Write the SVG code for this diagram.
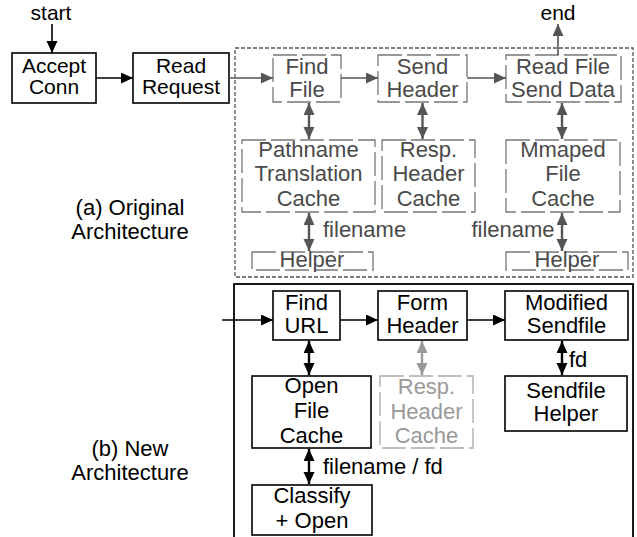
<svg xmlns="http://www.w3.org/2000/svg" width="637" height="537" viewBox="0 0 637 537">
  <defs>
    <marker id="ah-black" markerUnits="userSpaceOnUse" markerWidth="12" markerHeight="12" refX="12" refY="5.5" orient="auto-start-reverse">
      <path d="M0,0 L12,5.5 L0,11 z" fill="#000"/>
    </marker>
    <marker id="ah-gray" markerUnits="userSpaceOnUse" markerWidth="12" markerHeight="12" refX="12" refY="5.5" orient="auto-start-reverse">
      <path d="M0,0 L12,5.5 L0,11 z" fill="#555"/>
    </marker>
    <marker id="ah-light" markerUnits="userSpaceOnUse" markerWidth="12" markerHeight="12" refX="12" refY="5.5" orient="auto-start-reverse">
      <path d="M0,0 L12,5.5 L0,11 z" fill="#999"/>
    </marker>
  </defs>
  <style>
    text { font-family: "Liberation Sans", Arial, sans-serif; font-size: 22px; text-anchor: middle; fill: #000; }
    .sm { font-size: 21px; }
    .lbl { text-anchor: start; }
    .box { fill: #fff; stroke: #000; stroke-width: 1.6; }
    .gbox { fill: none; stroke: #777; stroke-width: 1.3; stroke-dasharray: 24 5; }
    .gbox-t { fill: #4a4a4a; }
    .lbox { fill: none; stroke: #aaa; stroke-width: 1.3; stroke-dasharray: 24 5; }
    .lbox-t { fill: #999; }
    .frame-a { fill: none; stroke: #555; stroke-width: 1.3; stroke-dasharray: 4 2; }
    .frame-b { fill: none; stroke: #000; stroke-width: 1.8; }
    .e-black { stroke: #000; stroke-width: 1.6; fill: none; marker-end: url(#ah-black); }
    .e-gray { stroke: #555; stroke-width: 1.6; fill: none; marker-end: url(#ah-gray); }
    .d-black { stroke: #000; stroke-width: 2.4; fill: none; marker-start: url(#ah-black); marker-end: url(#ah-black); }
    .d-gray { stroke: #555; stroke-width: 2.4; fill: none; marker-start: url(#ah-gray); marker-end: url(#ah-gray); }
    .d-light { stroke: #999; stroke-width: 2.4; fill: none; marker-start: url(#ah-light); marker-end: url(#ah-light); }
  </style>

  <!-- section frames -->
  <rect class="frame-a" x="235" y="48" width="398" height="229"/>
  <rect class="frame-b" x="234" y="284" width="399" height="270"/>

  <!-- section captions -->
  <text x="130" y="215">(a) Original</text>
  <text x="130" y="239">Architecture</text>
  <text x="130" y="456">(b) New</text>
  <text x="130" y="480">Architecture</text>

  <!-- original architecture -->
  <g id="accept-conn">
    <rect class="box" x="12" y="53" width="84" height="50"/>
    <text class="sm" x="54" y="73">Accept</text>
    <text class="sm" x="54" y="94">Conn</text>
  </g>
  <g id="read-request">
    <rect class="box" x="133" y="53" width="96" height="50"/>
    <text class="sm" x="181" y="73">Read</text>
    <text class="sm" x="181" y="94">Request</text>
  </g>
  <g id="find-file">
    <rect class="gbox" x="273" y="55" width="68" height="47"/>
    <text class="gbox-t" x="307" y="74">Find</text>
    <text class="gbox-t" x="307" y="97">File</text>
  </g>
  <g id="send-header">
    <rect class="gbox" x="378" y="55" width="89" height="47"/>
    <text class="gbox-t" x="422.5" y="74">Send</text>
    <text class="gbox-t" x="422.5" y="97">Header</text>
  </g>
  <g id="read-file-send-data">
    <rect class="gbox" x="506" y="55" width="115" height="47"/>
    <text class="gbox-t" x="563" y="74">Read File</text>
    <text class="gbox-t" x="563" y="97">Send Data</text>
  </g>
  <g id="pathname-cache">
    <rect class="gbox" x="242" y="140" width="133" height="72"/>
    <text class="gbox-t" x="308.5" y="157">Pathname</text>
    <text class="gbox-t" x="308.5" y="181">Translation</text>
    <text class="gbox-t" x="308.5" y="206">Cache</text>
  </g>
  <g id="resp-header-cache-a">
    <rect class="gbox" x="382" y="140" width="93" height="72"/>
    <text class="gbox-t" x="428.5" y="157">Resp.</text>
    <text class="gbox-t" x="428.5" y="181">Header</text>
    <text class="gbox-t" x="428.5" y="206">Cache</text>
  </g>
  <g id="mmaped-file-cache">
    <rect class="gbox" x="506" y="140" width="114" height="72"/>
    <text class="gbox-t" x="563" y="157">Mmaped</text>
    <text class="gbox-t" x="563" y="181">File</text>
    <text class="gbox-t" x="563" y="206">Cache</text>
  </g>
  <g id="helper-path">
    <rect class="gbox" x="252" y="252" width="121" height="18"/>
    <text class="gbox-t" x="312" y="267">Helper</text>
  </g>
  <g id="helper-mmap">
    <rect class="gbox" x="506" y="252" width="122" height="18"/>
    <text class="gbox-t" x="567" y="267">Helper</text>
  </g>

  <!-- new architecture -->
  <g id="find-url">
    <rect class="box" x="273" y="291" width="67" height="49"/>
    <text x="306.5" y="310">Find</text>
    <text x="306.5" y="333">URL</text>
  </g>
  <g id="form-header">
    <rect class="box" x="378" y="291" width="89" height="49"/>
    <text x="422.5" y="310">Form</text>
    <text x="422.5" y="333">Header</text>
  </g>
  <g id="modified-sendfile">
    <rect class="box" x="505" y="291" width="123" height="49"/>
    <text x="566.5" y="310">Modified</text>
    <text x="566.5" y="333">Sendfile</text>
  </g>
  <g id="open-file-cache">
    <rect class="box" x="252" y="376" width="119" height="72"/>
    <text x="311.5" y="393">Open</text>
    <text x="311.5" y="418">File</text>
    <text x="311.5" y="443">Cache</text>
  </g>
  <g id="resp-header-cache-b">
    <rect class="lbox" x="380" y="376" width="93" height="72"/>
    <text class="lbox-t" x="426.5" y="394">Resp.</text>
    <text class="lbox-t" x="426.5" y="419">Header</text>
    <text class="lbox-t" x="426.5" y="443">Cache</text>
  </g>
  <g id="sendfile-helper">
    <rect class="box" x="505" y="376" width="122" height="55"/>
    <text x="566" y="398">Sendfile</text>
    <text x="566" y="421">Helper</text>
  </g>
  <g id="classify-open">
    <rect class="box" x="252" y="485" width="120" height="50"/>
    <text x="312" y="503">Classify</text>
    <text x="312" y="528">+ Open</text>
  </g>

  <!-- connectors -->
  <g id="connectors">
    <text class="sm" x="51" y="20">start</text>
    <path class="e-black" d="M52,24 V53"/>
    <path class="e-black" d="M96,78 H133"/>
    <path class="e-gray" d="M229,78 H273"/>
    <path class="e-gray" d="M341,78 H378"/>
    <path class="e-gray" d="M467,78 H506"/>
    <text class="sm" x="558" y="20">end</text>
    <path class="e-gray" d="M558,55 V24"/>
    <path class="d-gray" d="M309,103 V139"/>
    <path class="d-gray" d="M422.5,103 V139"/>
    <path class="d-gray" d="M562,103 V139"/>
    <path class="d-gray" d="M309,213 V251"/>
    <path class="d-gray" d="M562,213 V251"/>
    <text class="lbl gbox-t" x="323" y="237">filename</text>
    <text class="gbox-t" x="513" y="237">filename</text>

    <path class="e-black" d="M222,320 H273"/>
    <path class="e-black" d="M340,320 H378"/>
    <path class="e-black" d="M467,320 H505"/>
    <path class="d-black" d="M309,341 V375"/>
    <path class="d-light" d="M422,341 V375"/>
    <path class="d-black" d="M562,341 V375"/>
    <text class="lbl" x="569" y="367">fd</text>
    <path class="d-black" d="M309,449 V484"/>
    <text class="lbl" x="323" y="474">filename / fd</text>
  </g>
</svg>
